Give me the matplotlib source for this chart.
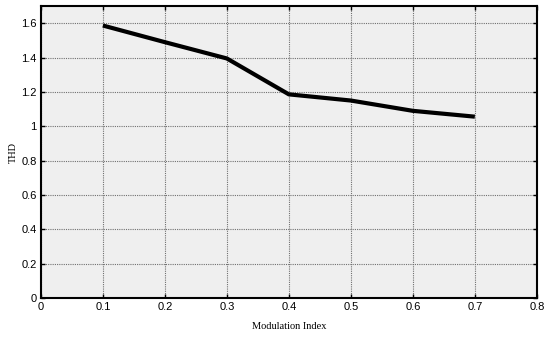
import matplotlib.pyplot as plt
import matplotlib.font_manager as fm

# data
mod_index = [0.1, 0.2, 0.3, 0.4, 0.5, 0.6, 0.7]
thd = [1.587, 1.49, 1.395, 1.186, 1.15, 1.09, 1.056]

xticks = [0, 0.1, 0.2, 0.3, 0.4, 0.5, 0.6, 0.7, 0.8]
xtick_labels = ['0', '0.1', '0.2', '0.3', '0.4', '0.5', '0.6', '0.7', '0.8']
yticks = [0, 0.2, 0.4, 0.6, 0.8, 1.0, 1.2, 1.4, 1.6]
ytick_labels = ['0', '0.2', '0.4', '0.6', '0.8', '1', '1.2', '1.4', '1.6']

names = {f.name for f in fm.fontManager.ttflist}
tick_font = 'Liberation Sans Narrow' if 'Liberation Sans Narrow' in names else 'Liberation Sans'

fig = plt.figure(figsize=(5.45, 3.39), dpi=100)
ax = fig.add_axes([0.075, 0.121, 0.91, 0.861])
ax.set_facecolor('#efefef')

ax.plot(mod_index, thd, color='black', linewidth=3.0, solid_capstyle='butt')

ax.set_xlim(0, 0.8)
ax.set_ylim(0, 1.7)
ax.set_xticks(xticks)
ax.set_xticklabels(xtick_labels)
ax.set_yticks(yticks)
ax.set_yticklabels(ytick_labels)
ax.grid(True, color='#707070', linestyle=(0, (1, 1)), linewidth=0.8)
ax.tick_params(direction='in', length=3, width=1, labelsize=8, top=True, right=True, pad=3)
for lab in ax.get_xticklabels() + ax.get_yticklabels():
    lab.set_family(tick_font)
for sp in ax.spines.values():
    sp.set_linewidth(1.5)

ax.set_xlabel('Modulation Index', family='Liberation Serif', fontsize=7.5, labelpad=7)
ax.set_ylabel('THD', family='Liberation Serif', fontsize=7.5)
ax.yaxis.set_label_coords(-0.046, 0.5)

plt.savefig('out.png', dpi=100)
